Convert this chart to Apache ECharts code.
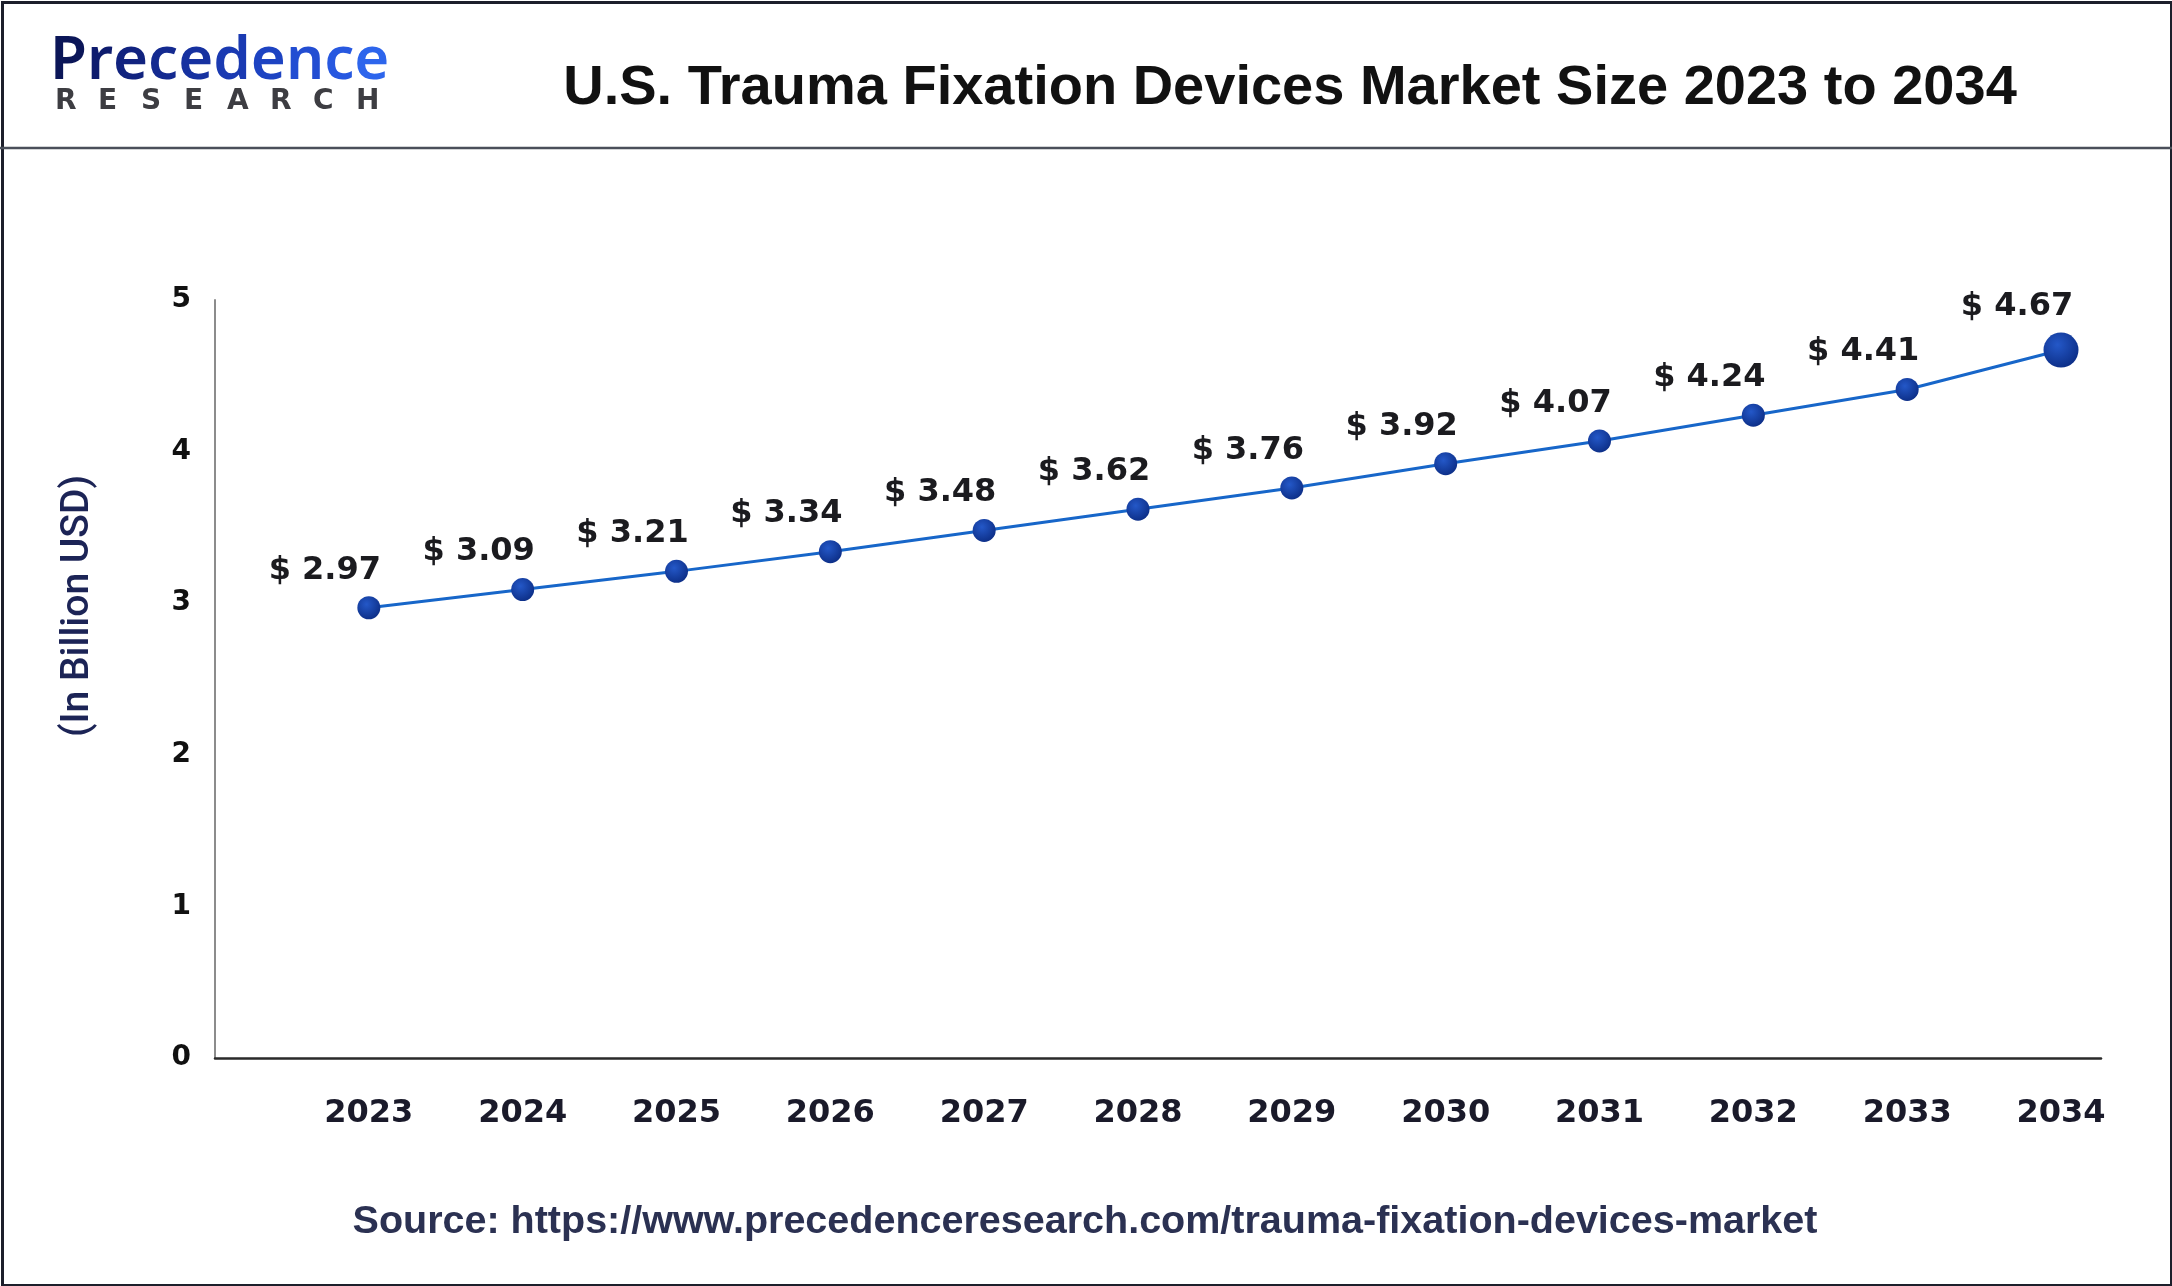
<!DOCTYPE html>
<html>
<head>
<meta charset="utf-8">
<script src="https://cdn.jsdelivr.net/npm/echarts@6/dist/echarts.min.js"></script>
<style>
html,body{margin:0;padding:0;background:#fff;}
#chart{width:2172px;height:1286px;}
</style>
</head>
<body>
<div id="chart"></div>
<script>
// ---- data ----
const years = [2023, 2024, 2025, 2026, 2027, 2028, 2029, 2030, 2031, 2032, 2033, 2034];
const values = [2.97, 3.09, 3.21, 3.34, 3.48, 3.62, 3.76, 3.92, 4.07, 4.24, 4.41, 4.67];
const yTicks = [0, 1, 2, 3, 4, 5];
const titleText = 'U.S. Trauma Fixation Devices Market Size 2023 to 2034';
const yAxisTitle = '(In Billion USD)';
const sourceText = 'Source: https://www.precedenceresearch.com/trauma-fixation-devices-market';
const logoWord = 'Precedence';
const logoSub = ['R', 'E', 'S', 'E', 'A', 'R', 'C', 'H'];
const logoColors = ['#0b1658', '#0e1c6e', '#11237f', '#142a90', '#1631a0', '#1a3ab2', '#1d43c2', '#224dd2', '#2758e0', '#2d65ec'];

const chart = echarts.init(document.getElementById('chart'), null, {renderer: 'canvas'});

const points = years.map((y, i) => [y, values[i]]);
const lastIdx = years.length - 1;

const markerColor = new echarts.graphic.RadialGradient(0.4, 0.35, 0.75, [
  {offset: 0, color: '#2458c8'},
  {offset: 1, color: '#0a2a80'}
]);

const logoSubGraphics = logoSub.map((ch, i) => ({
  type: 'text',
  left: 55 + i * 43,
  top: 88,
  z: 100,
  style: {text: ch, font: 'bold 28px "DejaVu Sans"', fill: '#3d3d42'}
}));

const logoRich = {};
logoColors.forEach((c, i) => {
  logoRich['c' + i] = {fill: c, font: '600 60px "Noto Sans"'};
});
const logoText = logoWord.split('').map((ch, i) => '{c' + i + '|' + ch + '}').join('');

const option = {
  backgroundColor: '#ffffff',
  animation: false,
  grid: {left: 215, right: 71, top: 300, bottom: 228, containLabel: false},
  xAxis: {
    type: 'value',
    min: 2022,
    max: 2034.26,
    interval: 1,
    splitLine: {show: false},
    axisTick: {show: false},
    axisLine: {show: true, onZero: false, lineStyle: {color: '#2a2a2a', width: 2.5}},
    axisLabel: {
      margin: 40,
      color: '#1a1a2a',
      fontFamily: 'DejaVu Sans',
      fontWeight: 'bold',
      fontSize: 32,
      formatter: v => (years.indexOf(Math.round(v)) >= 0 && Math.abs(v - Math.round(v)) < 1e-6) ? String(Math.round(v)) : ''
    }
  },
  yAxis: {
    type: 'value',
    min: yTicks[0],
    max: yTicks[yTicks.length - 1],
    interval: 1,
    splitLine: {show: false},
    axisTick: {show: false},
    axisLine: {show: true, lineStyle: {color: '#8c8c8c', width: 2}},
    axisLabel: {
      margin: 24,
      color: '#111111',
      fontFamily: 'DejaVu Sans',
      fontWeight: 'bold',
      fontSize: 28
    }
  },
  series: [{
    type: 'line',
    data: points,
    symbol: 'circle',
    symbolSize: (val, params) => params.dataIndex === lastIdx ? 35 : 23,
    lineStyle: {color: '#1766c9', width: 3},
    itemStyle: {color: markerColor},
    label: {
      show: true,
      position: 'top',
      distance: 10,
      offset: [-44, 0],
      color: '#1b1b1f',
      fontFamily: 'DejaVu Sans',
      fontWeight: 'bold',
      fontSize: 32,
      formatter: p => '$ ' + p.value[1].toFixed(2)
    }
  }],
  graphic: [
    {type: 'rect', left: 0, top: 0, z: 100,
     shape: {x: 1.5, y: 1.5, width: 2169, height: 1283},
     style: {fill: 'none', stroke: '#1d1f2b', lineWidth: 3}},
    {type: 'line', z: 100,
     shape: {x1: 0, y1: 148, x2: 2172, y2: 148},
     style: {stroke: '#4a4f5a', lineWidth: 2.5}},
    {type: 'text', x: 1290, y: 89, z: 100,
     style: {text: titleText, font: 'bold 56px "Liberation Sans"', fill: '#111111', textAlign: 'center', textVerticalAlign: 'middle'}},
    {type: 'text', x: 78, y: 606, rotation: Math.PI / 2, z: 100,
     style: {text: yAxisTitle, font: '500 39px Roboto', fill: '#1c2456', textAlign: 'center', textVerticalAlign: 'middle'}},
    {type: 'text', x: 1085, y: 1222, z: 100,
     style: {text: sourceText, font: 'bold 39.5px "Liberation Sans"', fill: '#2b3152', textAlign: 'center', textVerticalAlign: 'middle'}},
    {type: 'text', x: 50, y: 62, z: 100,
     style: {text: logoText, rich: logoRich, font: '600 60px "Noto Sans"', textVerticalAlign: 'middle'}}
  ].concat(logoSubGraphics)
};

chart.setOption(option);
</script>
</body>
</html>
